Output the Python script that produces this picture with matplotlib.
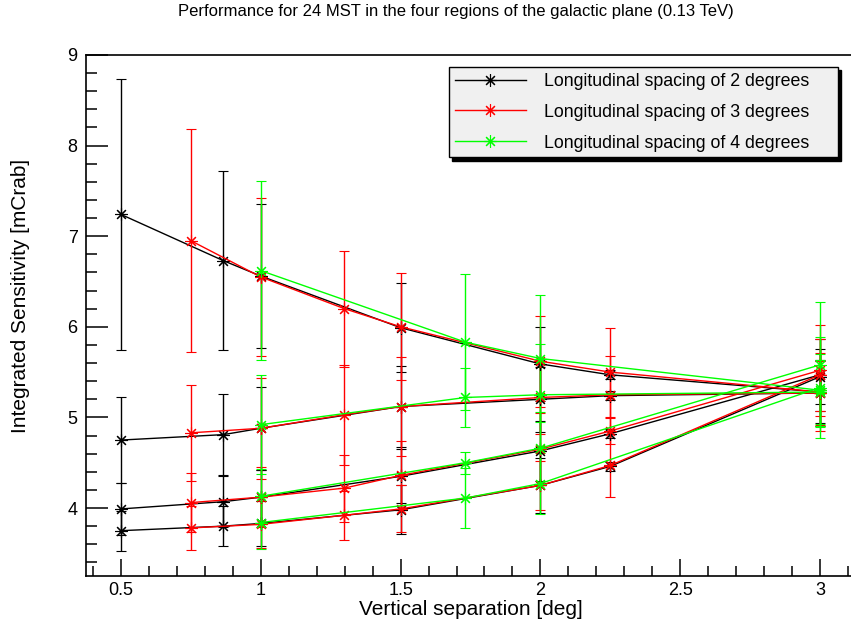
import matplotlib
matplotlib.use('Agg')
import matplotlib.pyplot as plt
from matplotlib.lines import Line2D
from matplotlib.ticker import MultipleLocator, FixedLocator

plt.rcParams['font.family'] = ['Liberation Sans', 'DejaVu Sans']

title = 'Performance for 24 MST in the four regions of the galactic plane (0.13 TeV)'
labels = ['Longitudinal spacing of 2 degrees',
          'Longitudinal spacing of 3 degrees',
          'Longitudinal spacing of 4 degrees']
colors = ['black', '#ff0000', '#00ff00']

# vertical separations [deg] for each spacing
x_2deg = [0.5, 0.866, 1.0, 1.5, 2.0, 2.25, 3.0]
x_3deg = [0.75, 1.0, 1.299, 1.5, 2.0, 2.25, 3.0]
x_4deg = [1.0, 1.732, 2.0, 3.0]

# sensitivity [mCrab] for the four regions, with errors
y_2deg = [[7.24, 6.73, 6.56, 5.99, 5.59, 5.47, 5.28],
          [4.75, 4.81, 4.88, 5.12, 5.20, 5.24, 5.27],
          [3.99, 4.07, 4.12, 4.35, 4.63, 4.82, 5.47],
          [3.75, 3.80, 3.83, 3.98, 4.25, 4.46, 5.45]]
e_2deg = [[1.50, 0.99, 0.79, 0.49, 0.41, 0.05, 0.34],
          [0.47, 0.45, 0.46, 0.45, 0.36, 0.05, 0.36],
          [0.29, 0.28, 0.30, 0.30, 0.33, 0.05, 0.40],
          [0.22, 0.22, 0.25, 0.27, 0.30, 0.05, 0.30]]

y_3deg = [[6.95, 6.55, 6.20, 6.00, 5.62, 5.50, 5.28],
          [4.83, 4.88, 5.03, 5.12, 5.22, 5.25, 5.27],
          [4.06, 4.12, 4.22, 4.36, 4.65, 4.85, 5.52],
          [3.78, 3.82, 3.92, 3.99, 4.25, 4.47, 5.47]]
e_3deg = [[1.23, 0.87, 0.64, 0.59, 0.50, 0.49, 0.43],
          [0.53, 0.56, 0.55, 0.55, 0.40, 0.43, 0.35],
          [0.33, 0.33, 0.37, 0.38, 0.40, 0.14, 0.50],
          [0.24, 0.26, 0.27, 0.26, 0.27, 0.35, 0.40]]

y_4deg = [[6.62, 5.83, 5.65, 5.30],
          [4.92, 5.22, 5.25, 5.28],
          [4.13, 4.50, 4.66, 5.58],
          [3.84, 4.11, 4.27, 5.33]]
e_4deg = [[0.99, 0.75, 0.70, 0.40],
          [0.55, 0.33, 0.56, 0.35],
          [0.30, 0.12, 0.40, 0.69],
          [0.29, 0.33, 0.34, 0.56]]

xs = [x_2deg, x_3deg, x_4deg]
ys = [y_2deg, y_3deg, y_4deg]
es = [e_2deg, e_3deg, e_4deg]

star = (8, 2, 0)

fig = plt.figure(figsize=(8.51, 6.26), dpi=100)
ax = fig.add_axes([0.1011, 0.0799, 0.9036, 0.8323])

for x, yy, ee, c in zip(xs, ys, es, colors):
    for y, e in zip(yy, ee):
        ax.errorbar(x, y, yerr=e, color=c, lw=1, elinewidth=1,
                    marker=star, markersize=9, markeredgewidth=0.8,
                    capsize=3.5, capthick=1)

ax.set_xlim(0.375, 3.125)
ax.set_ylim(3.25, 9)

ax.xaxis.set_major_locator(FixedLocator([0.5, 1, 1.5, 2, 2.5, 3]))
ax.set_xticklabels(['0.5', '1', '1.5', '2', '2.5', '3'])
ax.xaxis.set_minor_locator(MultipleLocator(0.1))
ax.yaxis.set_major_locator(MultipleLocator(1))
ax.yaxis.set_minor_locator(MultipleLocator(0.2))

ax.tick_params(axis='x', which='major', direction='in', length=12, width=1.1,
               labelsize=13, pad=4)
ax.tick_params(axis='x', which='minor', direction='in', length=7, width=1.1)
ax.tick_params(axis='y', which='major', direction='in', length=16, width=1.1,
               labelsize=13, pad=6)
ax.tick_params(axis='y', which='minor', direction='in', length=8, width=1.1)

for s in ax.spines.values():
    s.set_linewidth(1.2)

ax.set_xlabel('Vertical separation [deg]', fontsize=15, labelpad=1)
ax.set_ylabel('Integrated Sensitivity [mCrab]', fontsize=15)
ax.yaxis.set_label_coords(-0.073, 0.537)
fig.text(0.536, 0.981, title, ha='center', va='center', fontsize=12)

handles = [Line2D([], [], color=c, lw=1, marker=star, markersize=9,
                  markeredgewidth=0.8) for c in colors]
leg = fig.legend(handles, labels, loc='upper left',
                 bbox_to_anchor=(0.5276, 0.7476, 0.457, 0.1454), mode='expand',
                 borderaxespad=0, fontsize=12.8, handlelength=4.0,
                 handletextpad=1.0, labelspacing=0.78, borderpad=0.33,
                 fancybox=False,
                 shadow={'color': 'black', 'alpha': 1, 'ox': 2.5, 'oy': -2.5},
                 framealpha=1)
leg.get_frame().set_facecolor('#f0f0f0')
leg.get_frame().set_edgecolor('black')
leg.get_frame().set_linewidth(1)

fig.savefig('out.png', dpi=100)
